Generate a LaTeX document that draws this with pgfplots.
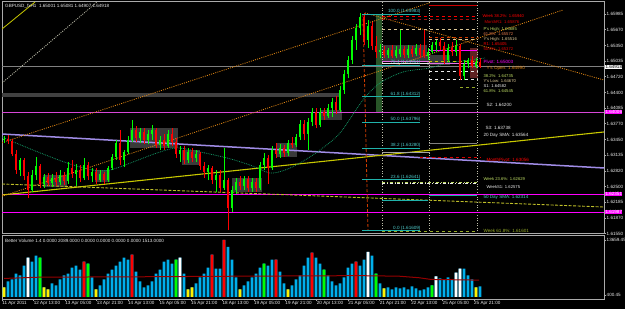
\documentclass[border=0pt]{standalone}
\usepackage{pgfplots}
\pgfplotsset{compat=1.18}
\usepackage{pgfplotstable}
\usepackage{fontspec}
\setmainfont{Liberation Sans}
\newcommand{\tf}{\fontsize{4.6}{5}\selectfont}
\newcommand{\tfs}{\fontsize{4.2}{4.6}\selectfont}
\definecolor{upc}{RGB}{0,255,0}
\definecolor{dnc}{RGB}{255,0,0}
\definecolor{frame}{RGB}{170,170,170}
\definecolor{lbl}{RGB}{235,235,235}
\definecolor{volblue}{RGB}{0,175,235}
\definecolor{mag}{RGB}{255,0,255}
\definecolor{violetl}{RGB}{215,70,215}
\definecolor{lav}{RGB}{160,140,230}
\definecolor{ylw}{RGB}{200,200,0}
\definecolor{ylwd}{RGB}{190,190,40}
\definecolor{orng}{RGB}{225,135,20}
\definecolor{sma}{RGB}{20,150,100}
\definecolor{fib}{RGB}{32,178,170}
\definecolor{fibtxt}{RGB}{80,205,205}
\definecolor{fibred}{RGB}{210,60,0}
\definecolor{boxc}{RGB}{58,58,58}
\definecolor{band}{RGB}{65,65,65}
\definecolor{dgreen}{RGB}{40,85,40}
\definecolor{maroonbox}{RGB}{95,35,35}
\definecolor{tanc}{RGB}{220,200,150}
\definecolor{yg}{RGB}{190,220,100}
\definecolor{olive2}{RGB}{150,170,40}
\definecolor{mac}{RGB}{150,0,0}
\definecolor{pricegray}{RGB}{128,128,128}
\definecolor{sdot}{RGB}{190,190,170}
\definecolor{darkred}{RGB}{160,20,20}
\definecolor{pink2}{RGB}{230,110,230}

% 2-hour candles: x = bar position, open, high, low, close
\pgfplotstableread{
x o h l c
4 1.6344 1.6352 1.6338 1.6346
20 1.6284 1.6308 1.6271 1.6304
32 1.6243 1.6284 1.6239 1.6274
36 1.6274 1.6310 1.6263 1.6292
44 1.6255 1.6276 1.6247 1.6269
52 1.6257 1.6276 1.6249 1.6267
60 1.6259 1.6284 1.6253 1.6274
68 1.6261 1.6300 1.6255 1.6288
76 1.6276 1.6296 1.6251 1.6284
84 1.6267 1.6308 1.6263 1.6294
92 1.6271 1.6288 1.6259 1.6280
100 1.6263 1.6284 1.6259 1.6276
108 1.6263 1.6292 1.6259 1.6288
112 1.6288 1.6316 1.6284 1.6310
116 1.6310 1.6344 1.6304 1.6338
124 1.6304 1.6324 1.6290 1.6320
128 1.6320 1.6352 1.6316 1.6344
132 1.6344 1.6385 1.6340 1.6364
140 1.6348 1.6368 1.6338 1.6360
148 1.6344 1.6364 1.6336 1.6356
152 1.6356 1.6375 1.6344 1.6364
160 1.6334 1.6352 1.6324 1.6344
168 1.6332 1.6364 1.6328 1.6356
180 1.6316 1.6332 1.6300 1.6324
188 1.6304 1.6328 1.6298 1.6320
196 1.6308 1.6324 1.6300 1.6316
208 1.6280 1.6294 1.6263 1.6288
216 1.6263 1.6284 1.6239 1.6274
224 1.6247 1.6328 1.6243 1.6263
232 1.6207 1.6251 1.6199 1.6243
236 1.6243 1.6267 1.6235 1.6259
244 1.6251 1.6271 1.6243 1.6265
252 1.6247 1.6267 1.6239 1.6259
260 1.6247 1.6300 1.6243 1.6294
264 1.6294 1.6318 1.6284 1.6308
272 1.6288 1.6332 1.6284 1.6324
280 1.6316 1.6336 1.6308 1.6328
288 1.6318 1.6344 1.6312 1.6338
296 1.6334 1.6356 1.6330 1.6350
300 1.6350 1.6385 1.6344 1.6377
308 1.6356 1.6389 1.6324 1.6381
312 1.6381 1.6409 1.6373 1.6401
320 1.6375 1.6409 1.6370 1.6401
328 1.6393 1.6417 1.6389 1.6409
332 1.6409 1.6429 1.6391 1.6421
340 1.6405 1.6453 1.6401 1.6445
344 1.6445 1.6486 1.6437 1.6478
348 1.6478 1.6514 1.6469 1.6506
352 1.6506 1.6554 1.6498 1.6546
356 1.6546 1.6579 1.6526 1.6570
360 1.6570 1.6601 1.6556 1.6593
368 1.6546 1.6587 1.6530 1.6575
380 1.6522 1.6538 1.6510 1.6526
388 1.6516 1.6530 1.6510 1.6526
396 1.6514 1.6534 1.6510 1.6526
400 1.6518 1.6566 1.6512 1.6528
408 1.6516 1.6536 1.6510 1.6528
416 1.6518 1.6538 1.6514 1.6530
428 1.6514 1.6530 1.6506 1.6522
432 1.6522 1.6542 1.6518 1.6536
436 1.6536 1.6546 1.6522 1.6542
448 1.6506 1.6538 1.6502 1.6530
456 1.6522 1.6546 1.6514 1.6534
464 1.6474 1.6506 1.6465 1.6498
468 1.6498 1.6510 1.6490 1.6506
476 1.6494 1.6510 1.6490 1.6502
}\upcandles

\pgfplotstableread{
x o h l c
8 1.6346 1.6354 1.6336 1.6342
12 1.6342 1.6346 1.6312 1.6316
16 1.6316 1.6324 1.6276 1.6284
24 1.6304 1.6308 1.6263 1.6271
28 1.6271 1.6280 1.6227 1.6243
40 1.6292 1.6296 1.6247 1.6255
48 1.6269 1.6278 1.6251 1.6257
56 1.6267 1.6280 1.6251 1.6259
64 1.6274 1.6280 1.6253 1.6261
72 1.6288 1.6304 1.6267 1.6276
80 1.6284 1.6294 1.6259 1.6267
88 1.6294 1.6300 1.6263 1.6271
96 1.6280 1.6288 1.6255 1.6263
104 1.6276 1.6280 1.6255 1.6263
120 1.6338 1.6364 1.6294 1.6304
136 1.6364 1.6373 1.6340 1.6348
144 1.6360 1.6368 1.6336 1.6344
156 1.6364 1.6368 1.6328 1.6334
164 1.6344 1.6356 1.6324 1.6332
172 1.6356 1.6368 1.6332 1.6340
176 1.6340 1.6348 1.6308 1.6316
184 1.6324 1.6332 1.6296 1.6304
192 1.6320 1.6328 1.6300 1.6308
200 1.6316 1.6320 1.6284 1.6292
204 1.6292 1.6300 1.6267 1.6280
212 1.6288 1.6292 1.6255 1.6263
220 1.6274 1.6284 1.6239 1.6247
228 1.6263 1.6267 1.6162 1.6207
240 1.6259 1.6271 1.6243 1.6251
248 1.6265 1.6271 1.6239 1.6247
256 1.6259 1.6267 1.6239 1.6247
268 1.6308 1.6314 1.6255 1.6288
276 1.6324 1.6338 1.6308 1.6316
284 1.6328 1.6334 1.6310 1.6318
292 1.6338 1.6350 1.6328 1.6334
304 1.6377 1.6385 1.6344 1.6356
316 1.6401 1.6409 1.6368 1.6375
324 1.6401 1.6409 1.6385 1.6393
336 1.6421 1.6433 1.6397 1.6405
364 1.6593 1.6601 1.6536 1.6546
372 1.6575 1.6583 1.6526 1.6534
376 1.6534 1.6554 1.6510 1.6522
384 1.6526 1.6534 1.6510 1.6516
392 1.6526 1.6536 1.6510 1.6514
404 1.6528 1.6534 1.6510 1.6516
412 1.6528 1.6534 1.6512 1.6518
420 1.6530 1.6538 1.6510 1.6516
424 1.6526 1.6566 1.6510 1.6514
440 1.6542 1.6550 1.6526 1.6534
444 1.6534 1.6542 1.6498 1.6506
452 1.6530 1.6542 1.6514 1.6522
460 1.6534 1.6538 1.6465 1.6474
472 1.6506 1.6514 1.6490 1.6494
480 1.6502 1.6510 1.6490 1.6492
}\dncandles

% volume (all bars)
\pgfplotstableread{
x v
4 2296
8 3718
12 4192
16 5614
20 5140
24 7510
28 9406
32 8458
36 9880
40 9406
44 2296
48 1822
52 3244
56 2770
60 4192
64 5140
68 5614
72 7036
76 7510
80 6562
84 8458
88 7984
92 4666
96 1822
100 2770
104 4192
108 5614
112 6562
116 7510
120 8458
124 9406
128 8932
132 10117
136 6088
140 3718
144 2296
148 2770
152 3718
156 5614
160 6562
164 8458
168 8932
172 7984
176 8932
180 9406
184 5614
188 1822
192 2296
196 3244
200 4666
204 5614
208 7036
212 10117
216 6799
220 6799
224 13672
228 12013
232 8932
236 4666
240 1822
244 2770
248 3718
252 4666
256 5614
260 7036
264 7984
268 7510
272 8932
276 8932
280 6088
284 3244
288 1822
292 2770
296 4192
300 5140
304 7510
308 9406
312 10591
316 9406
320 7984
324 6562
328 5140
332 3718
336 2770
340 3244
344 4666
348 7036
352 7984
356 8458
360 7510
364 8932
368 10828
372 9880
376 5614
380 3244
384 2059
388 2296
392 1822
396 2296
400 2059
404 2296
408 1822
412 2533
416 2059
420 1585
424 1822
428 2296
432 2770
436 4903
440 4429
444 4192
448 4666
452 4192
456 5851
460 6799
464 6799
468 5140
472 4192
476 2296
480 2533
}\volall
\pgfplotstableread{
x v
84 8458
132 10117
212 10117
224 13672
276 8932
312 10591
356 8458
}\volred
\pgfplotstableread{
x v
40 9406
88 7984
176 8932
264 7984
324 6562
376 5614
432 2770
}\volgreen
\pgfplotstableread{
x v
28 9406
180 9406
368 10828
436 4903
456 5851
460 6799
}\volwhite
\pgfplotstableread{
x v
4 2296
44 2296
48 1822
96 1822
188 1822
192 2296
240 1822
288 1822
384 2059
476 2296
}\volyellow

\begin{document}
\begin{tikzpicture}
\fill[black] (0,0) rectangle (625bp,309bp);
\useasboundingbox (0,0) rectangle (625bp,309bp);

% ---------------- price panel ----------------
\begin{axis}[
  at={(2bp,75bp)}, anchor=south west, scale only axis,
  width=602bp, height=232bp,
  xmin=2, xmax=604, ymin=1.615432, ymax=1.662273,
  axis background/.style={fill=black},
  axis line style={draw=frame, line width=1bp},
  clip mode=individual,
  scaled x ticks=false, scaled y ticks=false,
  xtick=\empty,
  ytick={1.61550,1.61870,1.62185,1.62500,1.62820,1.63135,1.63450,1.63770,1.64085,1.64400,1.64720,1.65035,1.65350,1.65670,1.65985},
  yticklabels={1.61550,1.61870,1.62185,1.62500,1.62820,1.63135,1.63450,1.63770,1.64085,1.64400,1.64720,1.65035,1.65350,1.65670,1.65985},
  ytick pos=right, yticklabel pos=right,
  tick align=outside, major tick length=2bp,
  tick style={draw=frame, line width=0.5bp},
  yticklabel style={font=\tf, text=lbl, inner sep=0.5bp},
  /pgf/number format/assume math mode=true,
]
% consolidation boxes and bands
\addplot[fill=band, draw=none] coordinates {(2,1.64390) (340,1.64390) (340,1.64309) (2,1.64309)} --cycle;
\addplot[fill=boxc, draw=none] coordinates {(43,1.62735) (67,1.62735) (67,1.62492) (43,1.62492)} --cycle;
\addplot[fill=boxc, draw=none] coordinates {(95,1.62835) (110,1.62835) (110,1.62593) (95,1.62593)} --cycle;
\addplot[fill=boxc, draw=none] coordinates {(130,1.63683) (178,1.63683) (178,1.63280) (130,1.63280)} --cycle;
\addplot[fill=boxc, draw=none] coordinates {(182,1.63239) (200,1.63239) (200,1.62936) (182,1.62936)} --cycle;
\addplot[fill=boxc, draw=none] coordinates {(232,1.62674) (262,1.62674) (262,1.62391) (232,1.62391)} --cycle;
\addplot[fill=boxc, draw=none] coordinates {(276,1.63381) (297,1.63381) (297,1.63098) (276,1.63098)} --cycle;
\addplot[fill=boxc, draw=none] coordinates {(320,1.64047) (342,1.64047) (342,1.63845) (320,1.63845)} --cycle;
\addplot[fill=boxc, draw=none] coordinates {(382,1.65359) (427,1.65359) (427,1.65016) (382,1.65016)} --cycle;
\addplot[fill=boxc, draw=none] coordinates {(427,1.65157) (450,1.65157) (450,1.64955) (427,1.64955)} --cycle;
\addplot[fill=maroonbox, draw=none] coordinates {(470,1.65299) (478,1.65299) (478,1.64693) (470,1.64693)} --cycle;
\addplot[fill=dgreen, draw=none] coordinates {(376,1.65965) (382,1.65965) (382,1.64006) (376,1.64006)} --cycle;

% vertical period separators
\addplot[sdot, dotted, line width=0.6bp] coordinates {(382,1.6155) (382,1.6623)};
\addplot[sdot, dotted, line width=0.6bp] coordinates {(429,1.6155) (429,1.6623)};
\addplot[sdot, dotted, line width=0.6bp] coordinates {(477,1.6155) (477,1.6623)};

% full-width horizontal levels
\addplot[pricegray, line width=0.8bp] coordinates {(2,1.64918) (604,1.64918)};
\addplot[violetl, line width=0.9bp] coordinates {(2,1.64006) (604,1.64006)};
\addplot[mag, line width=0.9bp] coordinates {(2,1.62351) (604,1.62351)};
\addplot[mag, line width=0.9bp] coordinates {(2,1.61987) (604,1.61987)};

% moving averages / trend lines
\addplot[lav, line width=1.5bp] coordinates {(2,1.63562) (604,1.62876)};
\addplot[ylw, line width=1.1bp] coordinates {(2,1.62331) (604,1.63603)};
\addplot[ylwd, line width=0.9bp, dash pattern=on 3bp off 1.5bp] coordinates {(2,1.62553) (320,1.62310) (604,1.62088)};
\addplot[orng, line width=0.8bp, dash pattern=on 1bp off 1.2bp] coordinates {(2,1.63389) (430,1.66213)};
\addplot[orng, line width=0.8bp, dash pattern=on 1bp off 1.2bp] coordinates {(2,1.62304) (563,1.66066)};
\addplot[orng, line width=0.8bp, dash pattern=on 1bp off 1.2bp] coordinates {(365,1.66005) (604,1.64652)};
\addplot[ylw, line width=0.8bp] coordinates {(2,1.65682) (35,1.66227)};
\addplot[sdot, line width=0.8bp, dash pattern=on 1bp off 1.2bp] coordinates {(2,1.64592) (97,1.66227)};
\addplot[sma, line width=0.8bp, dash pattern=on 0.8bp off 1bp, smooth] coordinates {
(2,1.63502) (33,1.63239) (67,1.62977) (93,1.62835) (110,1.62835) (133,1.62997)
(157,1.63179) (177,1.63280) (200,1.63199) (227,1.63078) (250,1.62936) (270,1.62775)
(285,1.62835) (300,1.62977) (320,1.63239) (340,1.63583) (363,1.64249) (380,1.64592)
(403,1.64814) (430,1.64895) (447,1.64996) (470,1.65056) (485,1.65097)};

% pivot / level lines on the right
\addplot[dnc!80!black, line width=1bp] coordinates {(429,1.66147) (477,1.66147)};
\addplot[dnc, line width=0.8bp, dashed] coordinates {(382,1.65945) (477,1.65945)};
\addplot[darkred, line width=0.8bp, dashed] coordinates {(382,1.65874) (477,1.65874)};
\addplot[tanc, line width=0.8bp, dashed] coordinates {(382,1.65676) (477,1.65676)};
\addplot[fibred, line width=0.8bp, dashed] coordinates {(429,1.65521) (477,1.65521)};
\addplot[tanc, line width=0.8bp, dashed] coordinates {(429,1.65474) (477,1.65474)};
\addplot[mag, line width=0.8bp] coordinates {(429,1.65258) (477,1.65258)};
\addplot[pink2, line width=0.7bp] coordinates {(382,1.65036) (430,1.65036)};
\addplot[ylw, line width=0.7bp, dashed] coordinates {(429,1.65036) (477,1.65036)};
\addplot[lbl, line width=0.6bp] coordinates {(382,1.64996) (430,1.64996)};
\addplot[pink2, line width=0.7bp] coordinates {(429,1.64996) (477,1.64996)};
\addplot[lbl, line width=0.6bp, dashed] coordinates {(429,1.64837) (477,1.64837)};
\addplot[lbl, line width=0.6bp, dashed] coordinates {(429,1.64673) (477,1.64673)};
\addplot[olive2, line width=0.7bp, dashed] coordinates {(460,1.64514) (477,1.64514)};
\addplot[pricegray, line width=1bp] coordinates {(429,1.64171) (477,1.64171)};
\addplot[pricegray, line width=1bp] coordinates {(429,1.63373) (477,1.63373)};
\addplot[lbl!70!black, line width=0.8bp] coordinates {(382,1.63199) (430,1.63199)};
\addplot[dnc!85!black, line width=0.8bp, dashed] coordinates {(420,1.63098) (480,1.63098)};
\addplot[yg, line width=0.7bp, dash dot] coordinates {(382,1.62593) (477,1.62593)};
\addplot[lbl, line width=0.6bp, dash dot] coordinates {(382,1.62573) (477,1.62573)};
\addplot[fib, line width=0.8bp] coordinates {(429,1.62330) (477,1.62330)};
\addplot[fib, line width=0.8bp] coordinates {(382,1.62230) (428,1.62230)};
\addplot[olive2, line width=0.8bp, dashed] coordinates {(382,1.61604) (477,1.61604)};

% candles
\addplot[draw=upc, line width=0.6bp, quiver={u=0, v=\thisrow{h}-\thisrow{l}}] table[x=x, y=l] {\upcandles};
\addplot[draw=upc, line width=2.2bp, quiver={u=0, v=\thisrow{c}-\thisrow{o}}] table[x=x, y=o] {\upcandles};
\addplot[draw=dnc, line width=0.6bp, quiver={u=0, v=\thisrow{h}-\thisrow{l}}] table[x=x, y=l] {\dncandles};
\addplot[draw=dnc, line width=2.2bp, quiver={u=0, v=\thisrow{c}-\thisrow{o}}] table[x=x, y=o] {\dncandles};

% Fibonacci retracement
\addplot[fibred, line width=0.8bp, dash pattern=on 3bp off 2bp] coordinates {(363,1.65983) (368,1.61609)};
\addplot[fib, line width=0.8bp] coordinates {(362,1.65983) (420,1.65983)};
\addplot[fib, line width=0.8bp] coordinates {(362,1.64951) (420,1.64951)};
\addplot[fib, line width=0.8bp] coordinates {(362,1.64312) (420,1.64312)};
\addplot[fib, line width=0.8bp] coordinates {(362,1.63796) (420,1.63796)};
\addplot[fib, line width=0.8bp] coordinates {(362,1.63280) (420,1.63280)};
\addplot[fib, line width=0.8bp] coordinates {(362,1.62641) (420,1.62641)};
\addplot[fib, line width=0.8bp] coordinates {(362,1.61609) (420,1.61609)};

\begin{scope}[every node/.style={font=\tf, inner sep=0.3bp}]
\node[anchor=south east, text=fibtxt] at (axis cs:421,1.65983) {100.0 (1.65983)};
\node[anchor=south east, text=fibtxt] at (axis cs:421,1.64951) {76.4 (1.64951)};
\node[anchor=south east, text=fibtxt] at (axis cs:421,1.64312) {61.8 (1.64312)};
\node[anchor=south east, text=fibtxt] at (axis cs:421,1.63796) {50.0 (1.63796)};
\node[anchor=south east, text=fibtxt] at (axis cs:421,1.63280) {38.2 (1.63280)};
\node[anchor=south east, text=fibtxt] at (axis cs:421,1.62641) {23.6 (1.62641)};
\node[anchor=south east, text=fibtxt] at (axis cs:421,1.61609) {0.0 (1.61609)};

\node[anchor=west, text=dnc, font=\tfs] at (axis cs:482,1.65945) {Week 38.2\%: 1.65940};
\node[anchor=west, text=dnc!85!black, font=\tfs] at (axis cs:484,1.65824) {MonthR1: 1.65876};
\node[anchor=west, text=yg, font=\tfs] at (axis cs:483,1.65682) {P's High: 1.65685};
\node[anchor=west, text=fibred!70!white, font=\tfs] at (axis cs:483,1.65581) {61.8\%: 1.65572};
\node[anchor=west, text=tanc, font=\tfs] at (axis cs:483,1.65481) {Y's High: 1.65516};
\node[anchor=west, text=dnc, font=\tfs] at (axis cs:483,1.65380) {R1: 1.65405};
\node[anchor=west, text=dnc!85!black, font=\tfs] at (axis cs:483,1.65279) {50.0\%: 1.65372};
\node[anchor=west, text=mag] at (axis cs:483,1.65016) {Pivot: 1.65003};
\node[anchor=west, text=orng] at (axis cs:486,1.64895) {Y's Open: 1.64990};
\node[anchor=west, text=yg, font=\tfs] at (axis cs:483,1.64733) {38.2\%: 1.64735};
\node[anchor=west, text=tanc, font=\tfs] at (axis cs:483,1.64632) {Y's Low: 1.64670};
\node[anchor=west, text=lbl, font=\tfs] at (axis cs:483,1.64531) {S1: 1.64582};
\node[anchor=west, text=yg, font=\tfs] at (axis cs:483,1.64430) {61.8\%: 1.64545};
\node[anchor=west, text=lbl] at (axis cs:486,1.64148) {S2: 1.64200};
\node[anchor=west, text=lbl] at (axis cs:485,1.63683) {S3: 1.63738};
\node[anchor=west, text=lbl] at (axis cs:483,1.63542) {20 Day SMA: 1.63564};
\node[anchor=west, text=dnc] at (axis cs:486,1.63037) {MonthPivot: 1.63056};
\node[anchor=west, text=yg, font=\tfs] at (axis cs:483,1.62653) {Week 23.6\%: 1.62629};
\node[anchor=west, text=lbl, font=\tfs] at (axis cs:486,1.62492) {WeekS1: 1.62575};
\node[anchor=west, text=fibtxt] at (axis cs:483,1.62290) {50 Day SMA: 1.62314};
\node[anchor=west, text=olive2] at (axis cs:483,1.61610) {Week 61.8\%: 1.61601};

% highlighted price labels on the scale
\node[anchor=west, fill=white, text=black, xshift=1bp] at (axis cs:604,1.64918) {1.64918};
\node[anchor=west, fill=mag, text=white, xshift=1bp] at (axis cs:604,1.64006) {1.64006};
\node[anchor=west, fill=mag, text=white, xshift=1bp] at (axis cs:604,1.62351) {1.62351};
\node[anchor=west, fill=mag, text=white, xshift=1bp] at (axis cs:604,1.61987) {1.61987};
\end{scope}
\end{axis}

% ---------------- volume panel ----------------
\begin{axis}[
  at={(2bp,10bp)}, anchor=south west, scale only axis,
  width=602bp, height=63bp,
  xmin=2, xmax=604, ymin=-500, ymax=14608,
  axis background/.style={fill=black},
  axis line style={draw=frame, line width=1bp},
  scaled x ticks=false, scaled y ticks=false,
  xtick={2.2,33.65,65.1,96.55,128,159.45,190.9,222.35,253.8,285.25,316.7,348.15,379.6,411.05,442.5,473.95},
  xticklabels={11 Apr 2011,12 Apr 13:00,13 Apr 05:00,13 Apr 21:00,14 Apr 13:00,15 Apr 05:00,15 Apr 21:00,18 Apr 13:00,19 Apr 05:00,19 Apr 21:00,20 Apr 13:00,21 Apr 05:00,21 Apr 21:00,22 Apr 13:00,25 Apr 05:00,25 Apr 21:00},
  xtick pos=left, xticklabel pos=left,
  ytick={400.45,13659.45}, yticklabels={400.45,13659.45},
  ytick pos=right, yticklabel pos=right,
  tick align=outside, major tick length=2bp,
  tick style={draw=frame, line width=0.5bp},
  xticklabel style={font=\tf, text=lbl, anchor=north west, inner sep=0.5bp, xshift=-0.5bp},
  yticklabel style={font=\tf, text=lbl, inner sep=0.5bp},
  /pgf/number format/assume math mode=true,
]
\addplot[ybar, bar width=2.6, bar shift=0pt, fill=volblue, draw=none] table[x=x, y=v] {\volall};
\addplot[ybar, bar width=2.6, bar shift=0pt, fill=dnc, draw=none] table[x=x, y=v] {\volred};
\addplot[ybar, bar width=2.6, bar shift=0pt, fill=upc, draw=none] table[x=x, y=v] {\volgreen};
\addplot[ybar, bar width=2.6, bar shift=0pt, fill=white, draw=none] table[x=x, y=v] {\volwhite};
\addplot[ybar, bar width=2.6, bar shift=0pt, fill=yellow, draw=none] table[x=x, y=v] {\volyellow};
\addplot[mac, line width=1bp] coordinates {(4,4430) (40,4740) (120,4800) (240,4970) (359,5100) (399,4970) (419,4600) (431,4190) (479,4030)};
\end{axis}

\node[anchor=west, text=lbl, font=\tf, inner sep=0] at (5bp,303bp) {GBPUSD\_fxH1\ \ 1.65001 1.65081 1.64907 1.64918};
\node[anchor=west, text=lbl, font=\tf, inner sep=0] at (5bp,68bp) {Better Volume 1.4 0.0000 2089.0000 0.0000 0.0000 0.0000 0.0000 1513.0000};
\end{tikzpicture}
\end{document}
